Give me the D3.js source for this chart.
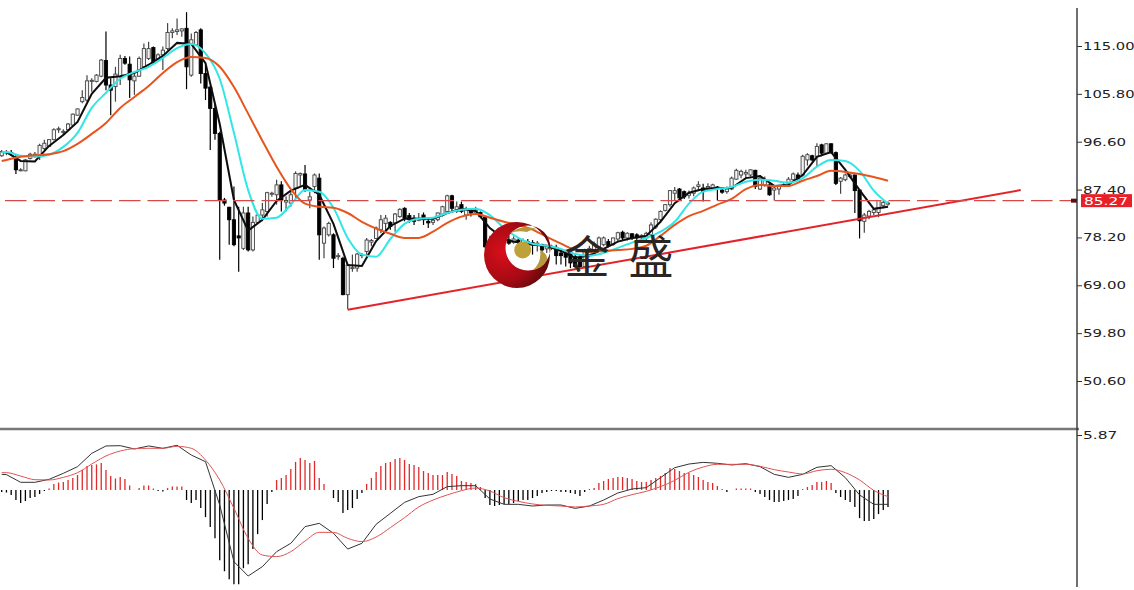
<!DOCTYPE html>
<html><head><meta charset="utf-8">
<script src="https://d3js.org/d3.v7.min.js"></script>
<style>html,body{margin:0;padding:0;background:#fff}svg{display:block}</style>
</head><body><svg id="c" width="1134" height="590"></svg>
<script>
const highs=[95.0,95.0,95.0,94.1,91.5,93.3,94.5,94.6,96.2,97.0,
97.1,99.2,99.5,99.0,100.2,102.0,103.0,106.5,109.4,108.8,
109.6,112.5,117.8,108.8,111.0,113.3,113.1,113.0,109.7,113.0,
115.5,115.8,114.9,113.6,114.9,119.4,118.4,120.3,118.4,121.5,
117.4,117.9,118.4,111.4,107.2,104.0,98.5,85.8,84.1,88.0,
84.1,84.1,84.1,82.2,82.8,84.8,87.0,87.0,89.3,89.0,
86.1,87.0,90.9,90.7,92.1,87.0,90.5,90.5,80.3,81.2,
79.0,75.2,74.5,73.2,74.9,75.2,75.2,78.1,77.9,80.3,
82.5,82.5,81.3,82.9,83.8,84.0,82.9,82.5,82.9,83.0,
81.9,81.9,83.0,84.3,86.4,86.4,85.1,85.1,84.1,83.8,
84.1,83.2,82.3,78.5,78.8,79.0,78.4,78.7,78.4,78.2,
78.0,77.9,77.7,77.5,77.0,76.8,76.8,76.8,75.8,75.5,
75.5,75.2,74.9,76.0,76.6,77.4,78.4,78.4,77.9,78.2,
79.3,79.5,79.2,79.0,79.0,78.8,79.3,81.1,81.9,83.4,
84.6,87.3,87.9,87.7,87.2,87.2,88.0,89.0,88.5,88.6,
88.5,88.1,87.9,88.0,89.9,91.4,91.2,91.2,91.3,91.2,
90.2,89.9,88.6,87.9,88.3,88.6,89.8,90.7,90.7,94.1,
94.4,94.1,96.3,96.2,96.3,96.3,94.7,89.8,90.5,90.5,
90.3,87.5,82.9,83.5,83.8,85.4,85.3,85.1];
const lows=[93.7,94.0,93.9,90.4,90.9,90.9,93.2,93.5,93.1,95.0,
95.6,96.9,98.3,97.9,98.7,99.7,101.6,104.0,104.3,106.2,
108.0,109.0,106.5,101.7,104.3,107.5,111.4,105.0,105.6,109.1,
110.7,112.3,111.4,112.1,110.4,114.2,116.5,117.1,116.8,106.7,
109.1,115.0,107.8,104.6,95.0,97.0,73.9,84.3,76.8,76.5,
71.6,75.8,75.5,75.5,80.9,81.3,82.2,86.0,84.5,83.2,
83.2,84.1,85.4,88.0,87.0,83.8,86.7,73.9,74.2,78.4,
72.3,73.9,67.1,64.4,71.6,71.6,74.2,74.5,76.5,78.0,
79.0,79.3,79.7,79.3,82.0,81.3,81.0,80.6,81.3,80.6,
80.0,80.6,81.3,82.2,82.9,83.2,82.9,82.9,81.6,82.2,
82.5,81.9,76.2,75.5,76.2,76.6,76.2,76.8,77.0,77.0,
76.6,76.4,74.9,75.5,72.6,75.2,75.8,73.0,73.0,72.6,
72.3,72.0,72.3,72.3,74.4,74.9,75.8,76.5,76.3,76.6,
77.4,77.6,77.6,77.7,77.7,77.9,77.7,78.4,79.8,81.3,
83.2,84.1,85.4,85.4,85.6,85.7,86.1,87.3,85.1,87.2,
87.5,85.3,86.6,86.6,87.3,89.3,89.6,89.6,89.9,87.5,
87.3,88.0,86.2,85.3,86.4,87.9,88.3,89.0,89.3,89.9,
92.0,92.8,91.8,93.8,94.3,94.3,88.3,86.6,89.0,89.6,
82.9,78.0,79.1,81.7,82.5,82.1,83.8,84.3];
const opens=[93.9,94.5,94.5,93.2,91.1,91.0,93.4,93.9,93.7,95.3,
95.7,97.0,98.9,98.4,98.9,99.8,101.7,104.3,104.6,108.2,
108.2,109.2,112.2,107.5,107.2,109.1,112.6,111.5,108.3,109.2,
111.0,112.6,114.7,112.4,113.3,114.5,117.6,117.8,117.9,118.4,
109.4,115.2,118.1,109.7,107.1,103.0,98.2,85.4,84.0,81.6,
78.5,76.1,82.9,75.8,81.1,82.5,83.2,86.5,86.4,88.3,
85.0,84.8,87.7,90.2,90.4,85.4,88.0,89.6,77.1,78.7,
78.7,74.5,74.2,67.2,72.2,72.3,74.7,75.5,77.3,78.0,
79.7,80.9,81.1,81.0,82.2,83.8,82.4,81.9,81.5,82.5,
81.3,81.1,81.6,82.5,83.2,86.2,83.2,84.5,82.5,83.2,
82.9,83.0,82.1,76.5,77.5,78.0,77.2,77.7,77.2,77.7,
77.2,77.4,77.2,76.8,76.8,76.0,76.2,76.3,75.2,75.2,
75.2,74.5,74.4,72.6,74.9,75.5,76.3,76.8,77.4,76.8,
77.9,79.2,78.1,78.9,78.7,78.1,78.1,78.7,80.2,81.6,
83.4,84.5,86.7,87.5,87.0,86.3,86.7,88.0,87.7,87.7,
87.7,87.9,87.3,87.0,87.5,89.4,90.2,90.4,90.2,91.1,
87.5,88.3,88.3,87.3,87.5,88.0,88.6,89.3,90.2,90.2,
93.1,93.9,93.8,96.0,94.4,96.2,94.5,89.0,89.3,89.9,
90.2,87.3,81.3,82.3,83.0,83.0,84.3,84.6];
const closes=[94.7,94.6,94.3,91.2,91.2,93.1,94.2,94.2,95.9,96.3,
97.0,98.9,99.1,98.6,100.0,101.9,102.9,105.1,108.3,108.4,
109.4,112.3,107.5,106.5,109.6,112.6,111.7,108.5,109.2,112.6,
114.5,114.5,111.7,113.3,114.2,117.6,117.9,118.1,118.3,111.0,
116.2,117.6,109.7,106.9,103.0,98.2,85.4,84.8,81.6,76.8,
78.1,82.9,75.8,81.1,82.5,83.5,86.8,86.7,88.3,85.4,
85.3,86.4,90.5,90.5,87.3,86.0,90.2,78.7,80.0,80.9,
74.2,74.7,67.2,72.9,72.4,75.0,74.9,77.7,77.6,80.0,
81.6,81.9,80.3,82.7,83.6,81.9,81.6,81.3,81.9,81.6,
81.0,81.5,82.9,84.1,86.2,83.8,84.1,83.2,83.5,82.9,
83.5,82.2,76.4,77.6,78.2,77.2,77.8,77.1,77.9,77.4,
77.6,77.0,76.8,77.1,75.8,76.4,76.5,74.7,74.7,74.4,
73.3,72.6,72.6,75.5,76.1,77.0,78.1,78.1,76.6,78.1,
79.1,78.1,79.0,78.1,78.1,78.6,79.0,80.6,81.7,83.2,
84.5,87.2,87.2,85.8,86.0,86.7,87.7,88.3,87.0,88.0,
88.3,87.7,86.9,87.5,89.6,91.1,90.9,90.7,91.2,88.0,
89.6,89.3,86.4,87.7,88.1,88.3,89.4,90.4,89.4,93.8,
94.1,93.1,95.7,94.4,96.2,94.5,88.6,89.6,90.2,90.2,
87.2,81.4,82.5,83.2,83.5,85.3,84.9,84.8];
// moving averages are read at every third bar
const lineBars=[0,...d3.range(1,188,3)];
const maFast=[94.6,94.6,92.9,92.8,95.8,97.9,100.4,105.8,108.9,109.2,109.8,111.4,113.1,115.6,115.4,111.7,100.0,85.4,79.5,81.6,85.2,87.2,88.3,86.4,80.8,72.9,72.7,
77.5,80.4,81.8,81.8,81.8,82.9,83.7,83.3,80.0,77.9,77.2,76.8,76.6,75.6,74.3,74.7,76.0,77.4,78.1,78.5,81.2,84.8,
86.8,87.5,87.7,87.7,89.6,90.0,88.1,88.3,90.2,93.7,94.6,91.2,87.3,83.7,84.1];
const maMid=[94.6,94.6,93.9,93.7,94.1,95.6,98.3,103.1,106.0,108.7,110.0,111.0,112.7,114.6,115.4,113.6,108.7,98.3,87.3,81.8,82.0,84.5,87.3,87.0,83.9,78.1,74.9,74.5,
77.9,80.8,81.8,82.0,82.9,83.5,83.7,82.5,80.0,78.1,77.0,76.6,76.0,75.0,74.7,75.2,76.2,77.2,78.1,79.3,81.2,84.7,
87.0,87.5,87.9,88.9,89.3,89.1,88.7,89.6,91.8,93.1,92.9,91.0,87.2,84.7];
const maSlow=[92.9,93.1,93.7,94.0,94.2,94.8,96.2,98.1,100.2,103.1,105.2,107.3,109.8,111.9,112.9,112.7,111.0,107.1,102.0,96.8,91.8,87.5,84.7,84.1,83.9,82.9,81.2,79.9,
78.9,78.1,78.1,79.3,81.0,82.2,82.7,82.0,81.2,80.6,79.7,78.3,77.0,75.8,75.4,75.6,75.8,76.0,76.6,78.5,80.6,82.3,
83.3,84.5,85.6,87.5,88.3,88.1,88.1,89.1,90.0,91.0,90.8,90.4,89.8,89.1];
const macdMain=[1.67,1.64,.82,.82,1.14,1.78,2.49,3.91,4.70,4.73,4.38,4.70,4.45,4.77,3.73,3.02,-1.60,-7.65,-9.18,-8.18,-6.58,-5.69,-3.91,-3.56,-4.62,-6.30,-5.69,-3.66,-2.49,-1.32,-.71,-.46,.36,
.46,.46,-.96,-1.53,-1.53,-1.71,-1.60,-1.60,-1.96,-1.71,-1.07,-.32,.11,.25,1.32,2.38,2.77,2.95,2.85,2.67,2.81,2.49,1.67,1.35,1.67,2.42,2.60,1.32,-.53,-1.53,-1.53];
const macdSignal=[1.85,1.85,1.49,1.10,1.07,1.35,1.85,2.77,3.63,4.16,4.41,4.45,4.45,4.66,4.45,3.20,1.07,-1.96,-5.16,-6.94,-7.11,-6.58,-5.44,-4.52,-4.52,-5.16,-5.51,-5.02,-4.02,-2.95,-1.81,-1.07,-.53,
-.07,.21,-.11,-.82,-1.21,-1.49,-1.64,-1.71,-1.81,-1.71,-1.53,-.92,-.50,-.14,.36,1.03,1.89,2.45,2.74,2.74,2.74,2.53,2.17,1.92,1.71,2.06,2.21,1.85,1.07,-.04,-.71];
const macdHist=[-.21,-.27,-.53,-1.07,-1.39,-1.18,-.86,-.75,-.43,-.11,
.16,.64,.8,.86,1.07,1.28,1.6,2.14,2.57,2.68,
2.73,2.89,2.14,1.5,1.23,1.39,1.18,.48,0,.21,
.48,.48,.16,-.11,-.16,.21,.37,.37,.37,-1.07,
-1.39,-1.07,-1.93,-2.89,-3.96,-5.14,-7.49,-8.67,-9.52,-10.06,
-10.06,-8.35,-7.92,-6.31,-4.71,-3.21,-1.5,-.21,1.07,1.28,
1.6,2.25,3.0,3.42,3.21,2.89,3.1,1.28,.64,0,
-.86,-1.28,-2.46,-2.14,-1.93,-.96,-.32,.64,1.28,1.93,
2.57,2.89,3.0,3.32,3.42,3.21,2.78,2.68,2.46,2.03,
1.82,1.6,1.6,1.6,1.93,1.71,1.5,
.96,.86,.75,.64,.32,-.86,-1.6,-1.71,-1.6,-1.5,
-1.5,-1.39,-1.18,-1.07,-1.07,-.86,-.64,-.32,-.21,-.11,
-.11,-.21,-.21,-.32,-.43,-.64,-.21,.11,.21,.75,
.96,1.18,1.28,1.39,1.39,1.28,1.18,.96,.86,.86,
1.07,1.28,1.5,1.82,2.35,2.25,2.03,1.82,1.82,1.6,
1.39,1.07,.86,.75,.43,.11,-.21,0,.16,.16,
.16,.16,-.21,-.43,-.75,-1.07,-1.28,-1.28,-1.18,-1.07,
-.96,-.64,.11,.32,.53,.86,.86,.96,.75,-.32,
-.75,-1.07,-1.28,-1.82,-3.0,-3.32,-3.32,-3.1,-2.57,-2.14,
-1.82];
const priceTicks=[115,105.8,96.6,87.4,78.2,69,59.8,50.6];
const macdTicks=[5.87];
const lastPrice=85.27;
const trendBars=[73,215];
const trendPrices=[64.3,87.3];
const logoChars=["金","盛"];

const svg=d3.select("#c");
const x=d3.scaleLinear().domain([0,187]).range([1.7,888]);
const y=d3.scaleLinear().domain([115,50.6]).range([46,381]);
const ym=d3.scaleLinear().domain([0,5.87]).range([490,435]);
const bars=d3.range(highs.length);
const AXIS=1077;

const defs=svg.append("defs");
const g=defs.append("radialGradient").attr("id","red").attr("gradientUnits","userSpaceOnUse")
 .attr("cx",503).attr("cy",252).attr("r",50);
g.append("stop").attr("offset","0").attr("stop-color","#d80f1a");
g.append("stop").attr("offset","0.6").attr("stop-color","#a50a14");
g.append("stop").attr("offset","1").attr("stop-color","#56090b");
defs.append("filter").attr("id","soft").attr("x",0).attr("y",0).attr("width",1).attr("height",1)
 .attr("filterUnits","userSpaceOnUse").attr("primitiveUnits","userSpaceOnUse")
 .attr("x",0).attr("y",0).attr("width",1134).attr("height",590)
 .append("feGaussianBlur").attr("stdDeviation",0.4);

const marks=svg.append("g").attr("filter","url(#soft)");

// candles
const cg=marks.append("g");
cg.selectAll(".w").data(bars).join("line").attr("class","w")
 .attr("x1",x).attr("x2",x).attr("y1",i=>y(highs[i])).attr("y2",i=>y(lows[i]))
 .attr("stroke",i=>closes[i]>=opens[i]?"#444":"#000").attr("stroke-width",1.2);
cg.selectAll(".b").data(bars).join("rect").attr("class","b")
 .attr("x",i=>x(i)-1.6).attr("width",3.2)
 .attr("y",i=>y(Math.max(opens[i],closes[i])))
 .attr("height",i=>Math.max(1,Math.abs(y(opens[i])-y(closes[i]))))
 .attr("fill",i=>closes[i]>=opens[i]?"#f4f4f4":"#000")
 .attr("stroke",i=>closes[i]>=opens[i]?"#444":"#000").attr("stroke-width",.9);

// moving averages
const priceLine=d3.line().x((d,k)=>x(lineBars[k])).y(d=>y(d));
[[maFast,"#0a0a0a",d3.curveLinear],[maMid,"#30e6e8",d3.curveMonotoneX],[maSlow,"#e8541f",d3.curveMonotoneX]].forEach(([s,c,cv])=>{
 marks.append("path").attr("d",priceLine.curve(cv)(s)).attr("fill","none").attr("stroke",c).attr("stroke-width",2);
});

// trend line & last price
marks.append("line").attr("x1",x(trendBars[0])).attr("x2",x(trendBars[1]))
 .attr("y1",y(trendPrices[0])).attr("y2",y(trendPrices[1]))
 .attr("stroke","#e3242b").attr("stroke-width",2);
marks.append("line").attr("x1",5).attr("x2",AXIS).attr("y1",y(lastPrice)).attr("y2",y(lastPrice))
 .attr("stroke","#d84a4a").attr("stroke-width",1.2).attr("stroke-dasharray","21.5 7");
svg.append("rect").attr("x",1071).attr("y",y(lastPrice)-2).attr("width",6).attr("height",4).attr("fill","#5a1010");

// MACD
marks.selectAll(".h").data(bars).join("line").attr("class","h")
 .attr("x1",x).attr("x2",x).attr("y1",ym(0)).attr("y2",i=>ym(macdHist[i]))
 .attr("stroke",i=>macdHist[i]>=0?"#e02a2a":"#000").attr("stroke-width",1.3);
const macdLine=d3.line().x((d,k)=>x(lineBars[k])).y(d=>ym(d));
marks.append("path").attr("d",macdLine.curve(d3.curveLinear)(macdMain)).attr("fill","none").attr("stroke","#333").attr("stroke-width",1);
marks.append("path").attr("d",macdLine.curve(d3.curveMonotoneX)(macdSignal)).attr("fill","none").attr("stroke","#e05252").attr("stroke-width",1);

// frame
svg.append("line").attr("x1",0).attr("x2",1079).attr("y1",429).attr("y2",429).attr("stroke","#777").attr("stroke-width",2.4);
svg.append("line").attr("x1",AXIS).attr("x2",AXIS).attr("y1",8).attr("y2",587).attr("stroke","#333").attr("stroke-width",1.4);

// axes
function styleAxis(sel){
 sel.select(".domain").remove();
 sel.selectAll(".tick line").attr("stroke","#333").attr("x2",5);
 sel.selectAll(".tick text").attr("x",6).attr("fill","#222")
  .attr("font-family","'DejaVu Sans',sans-serif").attr("font-size",11);
 sel.selectAll(".tick text").attr("textLength",function(){return this.textContent.length*8.6;}).attr("lengthAdjust","spacingAndGlyphs");
}
svg.append("g").attr("transform",`translate(${AXIS},0)`)
 .call(d3.axisRight(y).tickValues(priceTicks).tickFormat(d3.format(".2f"))).call(styleAxis);
svg.append("g").attr("transform",`translate(${AXIS},0)`)
 .call(d3.axisRight(ym).tickValues(macdTicks).tickFormat(d3.format(".2f"))).call(styleAxis);

// last price label
svg.append("rect").attr("x",1081).attr("y",y(lastPrice)-6.5).attr("width",51).attr("height",13).attr("fill","#e8202a");
svg.append("text").attr("x",1084).attr("y",y(lastPrice)+4).attr("fill","#fff")
 .attr("font-family","'DejaVu Sans',sans-serif").attr("font-size",11)
 .attr("textLength",44).attr("lengthAdjust","spacingAndGlyphs").text(d3.format(".2f")(lastPrice));

// logo
const logo=svg.append("g");
const circ=(cx,cy,r)=>`M${cx-r},${cy}a${r},${r} 0 1,0 ${2*r},0a${r},${r} 0 1,0 ${-2*r},0Z`;
logo.append("path").attr("d",circ(517,255,33)+circ(528,248,22.5)).attr("fill-rule","evenodd").attr("fill","url(#red)");
logo.append("circle").attr("cx",522.7).attr("cy",250).attr("r",8.5).attr("fill","#bda23a");
logo.append("path").attr("d","M510,233Q522,224 537,229Q530,230 527,232Q518,230 510,233Z").attr("fill","#b49a3c");
logo.append("path").attr("d","M533,270Q542,262 540,250Q548,254 547,260Q543,268 533,270Z").attr("fill","#b49a3c");
svg.selectAll(".cn").data(logoChars).join("text").attr("class","cn")
 .attr("x",(d,i)=>[587,651][i]).attr("y",274).attr("text-anchor","middle")
 .attr("font-family","'Noto Sans CJK SC',sans-serif").attr("font-size",45).attr("font-weight",400).attr("fill","#2a2422").text(d=>d);
</script></body></html>
